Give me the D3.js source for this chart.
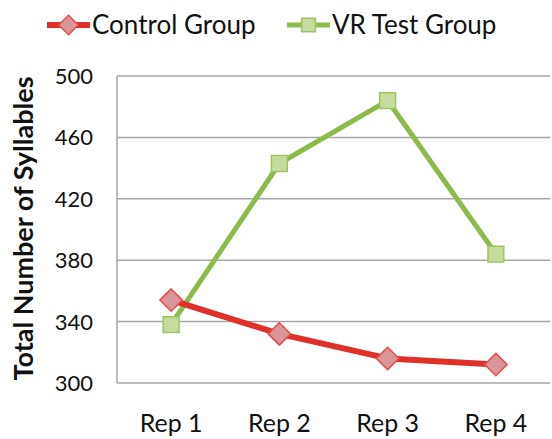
<!DOCTYPE html>
<html>
<head>
<meta charset="utf-8">
<script src="https://cdn.jsdelivr.net/npm/d3@7"></script>
<style>
  body { margin: 0; background: #fff; }
  text { font-family: Lato, "Open Sans", sans-serif; fill: #111; }
</style>
</head>
<body>
<svg id="chart" width="552" height="439"></svg>
<script>
// data
const reps = ["Rep 1", "Rep 2", "Rep 3", "Rep 4"];
const controlGroup = [354, 332, 316, 312];
const vrGroup = [338, 443, 484, 384];
const yTicks = [300, 340, 380, 420, 460, 500];

const svg = d3.select("#chart");
const plotL = 117, plotR = 550, plotT = 76, plotB = 383;

const x = d3.scaleBand().domain(reps).range([plotL, plotR]);
const y = d3.scaleLinear().domain([300, 500]).range([plotB, plotT]);
const cx = d => x(d) + x.bandwidth() / 2;

// gridlines
svg.append("g")
  .selectAll("line")
  .data(yTicks)
  .join("line")
  .attr("x1", plotL).attr("x2", plotR)
  .attr("y1", d => y(d)).attr("y2", d => y(d))
  .attr("stroke", "#a6a6a6").attr("stroke-width", 1.5);

// left axis line
svg.append("line")
  .attr("x1", plotL).attr("x2", plotL)
  .attr("y1", plotT).attr("y2", plotB)
  .attr("stroke", "#a6a6a6").attr("stroke-width", 1.5);

// y tick labels
svg.append("g")
  .selectAll("text")
  .data(yTicks)
  .join("text")
  .attr("x", 93).attr("y", d => y(d))
  .attr("dy", "0.36em")
  .attr("text-anchor", "end")
  .style("font-size", "22px")
  .text(d => d);

// x tick labels
svg.append("g")
  .selectAll("text")
  .data(reps)
  .join("text")
  .attr("x", cx).attr("y", 432)
  .attr("text-anchor", "middle")
  .style("font-size", "25px")
  .text(d => d);

// y title
svg.append("text")
  .attr("transform", "translate(33," + ((plotT + plotB) / 2 - 1) + ") rotate(-90)")
  .attr("text-anchor", "middle")
  .style("font-size", "27px")
  .style("font-weight", "bold")
  .text("Total Number of Syllables");

const line = d3.line().x((d, i) => cx(reps[i])).y(d => y(d));

// series
const series = [
  { name: "Control Group", values: controlGroup, stroke: "#e0302a", width: 6,
    mFill: "#d9969a", mStroke: "#e84a4a", symbol: d3.symbolDiamond2, area: 320 },
  { name: "VR Test Group", values: vrGroup, stroke: "#8cbb4a", width: 5,
    mFill: "#c5dc9e", mStroke: "#9cc55e", symbol: d3.symbolSquare2, area: 320 }
];

// draw VR first so Control sits on top like the reference
[series[1], series[0]].forEach(s => {
  svg.append("path")
    .datum(s.values)
    .attr("d", line)
    .attr("fill", "none")
    .attr("stroke", s.stroke)
    .attr("stroke-width", s.width)
    .attr("stroke-linejoin", "round");
  svg.append("g")
    .selectAll("path")
    .data(s.values)
    .join("path")
    .attr("transform", (d, i) => "translate(" + cx(reps[i]) + "," + y(d) + ")")
    .attr("d", d3.symbol(s.symbol, s.area))
    .attr("fill", s.mFill)
    .attr("stroke", s.mStroke)
    .attr("stroke-width", 1.5);
});

// legend
const legendX = [47, 287];
const legend = svg.append("g")
  .selectAll("g")
  .data(series)
  .join("g")
  .attr("transform", (d, i) => "translate(" + legendX[i] + ",25)");
legend.append("line")
  .attr("x1", 0).attr("x2", 43)
  .attr("stroke", d => d.stroke)
  .attr("stroke-width", d => d.width);
legend.append("path")
  .attr("transform", "translate(21.5,0)")
  .attr("d", d => d3.symbol(d.symbol, d.area * 0.75)())
  .attr("fill", d => d.mFill)
  .attr("stroke", d => d.mStroke)
  .attr("stroke-width", 1.5);
legend.append("text")
  .attr("x", 45).attr("dy", "0.36em")
  .style("font-size", "26px")
  .text(d => d.name);
</script>
</body>
</html>
